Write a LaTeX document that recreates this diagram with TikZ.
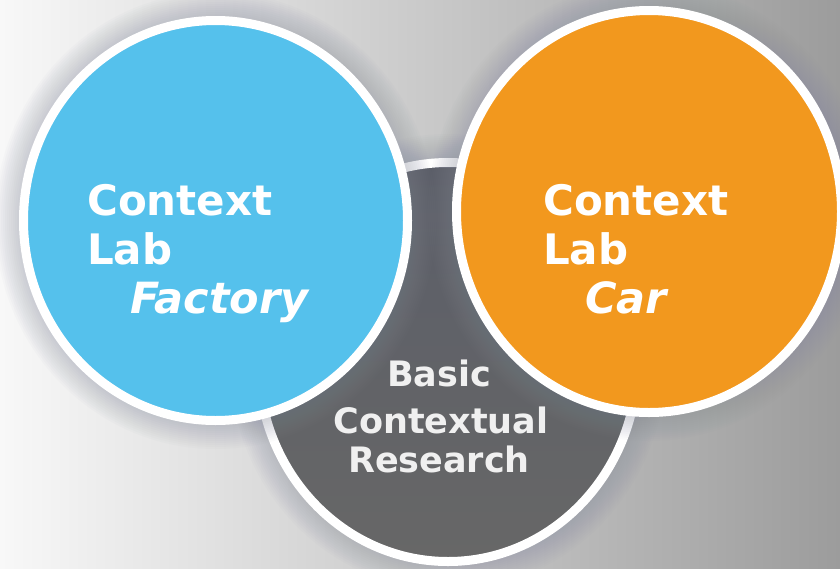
\documentclass[tikz,border=0pt]{standalone}
\usepackage{fontspec}
\setmainfont{DejaVu Sans}
\usepackage{tikz}
\usetikzlibrary{positioning}
\definecolor{labblue}{HTML}{55C1EC}
\definecolor{laborange}{HTML}{F2981E}
\definecolor{labgray}{HTML}{676767}
\definecolor{labgraytop}{HTML}{5B5E68}
\definecolor{labglow}{HTML}{858B9E}
\definecolor{bgleft}{HTML}{F8F8F8}
\definecolor{bgmid}{HTML}{CFCFCF}
\definecolor{bgright}{HTML}{9C9C9C}

\begin{document}
\begin{tikzpicture}[x=1pt, y=-1pt,
    ring/.style={draw=white, line width=9pt},
    glow/.style={fill=labglow, opacity=0.03},
    big/.style={text=white, font=\fontsize{42}{49}\selectfont\bfseries,
                inner sep=0pt, anchor=base west},
    bigit/.style={big, font=\fontsize{43}{49}\selectfont\bfseries\itshape},
    small/.style={text=white!94!black, font=\fontsize{35}{43}\selectfont\bfseries,
                  inner sep=0pt, anchor=base}]
  \useasboundingbox (0,0) rectangle (840,568);
  \clip (0,0) rectangle (840,568);
  \shade[left color=bgleft, middle color=bgmid, right color=bgright]
    (0,0) rectangle (840,568);

  % research circle, underneath
  \foreach \d in {2,4,...,24}
    \fill[glow] (448,362) ellipse ({194+\d} and {204+\d});
  \shade[top color=labgraytop, bottom color=labgray] (448,362) ellipse (189.5 and 199.5);
  \draw[ring] (448,362) ellipse (189.5 and 199.5);

  % factory lab
  \foreach \d in {2,4,...,24}
    \fill[glow] (215.5,220.5) ellipse ({196.5+\d} and {204.5+\d});
  \fill[labblue] (215.5,220.5) ellipse (192 and 200);
  \draw[ring] (215.5,220.5) ellipse (192 and 200);

  % car lab
  \foreach \d in {2,4,...,24}
    \fill[glow] (649,211.5) ellipse ({197+\d} and {205.5+\d});
  \fill[laborange] (649,211.5) ellipse (192.5 and 201);
  \draw[ring] (649,211.5) ellipse (192.5 and 201);

  \node[big]   (ctxf) at (87,215)  {Context};
  \node[big]   (labf) at (87,264)  {Lab};
  \node[bigit] (fact) at (130,313) {Factory};

  \node[big]   (ctxc) at (543,215) {Context};
  \node[big]   (labc) at (543,264) {Lab};
  \node[bigit] (car)  at (585,313) {Car};

  \node[small] (basic) at (439,386) {Basic};
  \node[small] (ctxl)  at (441,433) {Contextual};
  \node[small] (res)   at (439,472) {Research};
\end{tikzpicture}
\end{document}
